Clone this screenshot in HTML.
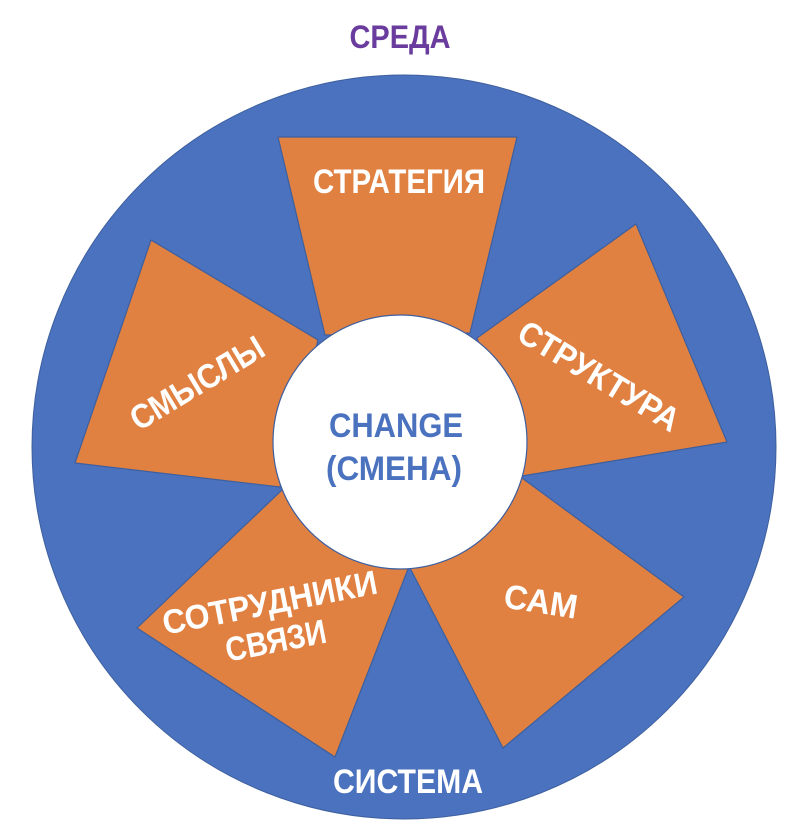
<!DOCTYPE html>
<html><head><meta charset="utf-8"><style>
html,body{margin:0;padding:0;background:#fff;}
svg{display:block;}
text{font-family:"Liberation Sans","DejaVu Sans",sans-serif;font-weight:bold;}
</style></head><body>
<svg width="800" height="835" viewBox="0 0 800 835" xmlns="http://www.w3.org/2000/svg">
<rect width="800" height="835" fill="#fff"/>
<text x="400" y="48" text-anchor="middle" font-size="32" fill="#6A3C9E" textLength="101" lengthAdjust="spacingAndGlyphs">СРЕДА</text>
<circle cx="404" cy="447" r="372" fill="#4A72BE" stroke="#3E5F9E" stroke-width="1"/>
<g fill="#E08142" stroke="#3E5F9E" stroke-width="1.2" stroke-linejoin="round">
<polygon points="278,137 517,137 470,333 325,335"/>
<polygon points="636,224 727,442 522,476 477,338"/>
<polygon points="151,240 318,340 280,487 75,463"/>
<polygon points="137,628 282,490 408,569 335,757"/>
<polygon points="410,568 522,478 684,597 503,748"/>
</g>
<circle cx="400" cy="442" r="127" fill="#fff" stroke="#3E5F9E" stroke-width="1.2"/>
<g fill="#fff" font-size="34">
<text x="399" y="193" text-anchor="middle" textLength="172" lengthAdjust="spacingAndGlyphs">СТРАТЕГИЯ</text>
<text transform="translate(593,386) rotate(31)" text-anchor="middle" textLength="182" lengthAdjust="spacingAndGlyphs">СТРУКТУРА</text>
<text transform="translate(203,393) rotate(-31)" text-anchor="middle" textLength="150" lengthAdjust="spacingAndGlyphs">СМЫСЛЫ</text>
<text transform="translate(539,613) rotate(9)" text-anchor="middle" textLength="74" lengthAdjust="spacingAndGlyphs">САМ</text>
<text transform="translate(272,614) rotate(-11)" text-anchor="middle" textLength="218" lengthAdjust="spacingAndGlyphs">СОТРУДНИКИ</text>
<text transform="translate(278,652) rotate(-11)" text-anchor="middle" textLength="102" lengthAdjust="spacingAndGlyphs">СВЯЗИ</text>
<text x="408" y="793" text-anchor="middle" textLength="150" lengthAdjust="spacingAndGlyphs">СИСТЕМА</text>
</g>
<g fill="#4A72BE" font-size="34">
<text x="396" y="437" text-anchor="middle" textLength="134" lengthAdjust="spacingAndGlyphs">CHANGE</text>
<text x="394" y="480" text-anchor="middle" textLength="136" lengthAdjust="spacingAndGlyphs">(СМЕНА)</text>
</g>
</svg>
</body></html>
